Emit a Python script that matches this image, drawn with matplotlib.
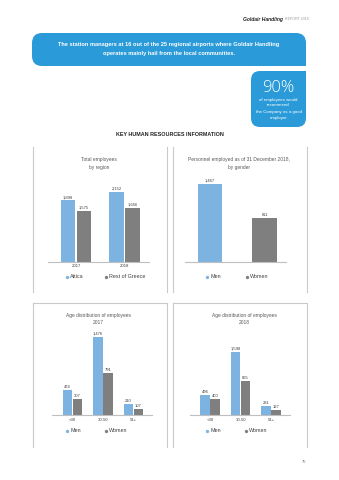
import matplotlib
matplotlib.use('Agg')
import matplotlib.pyplot as plt
from matplotlib.path import Path
from matplotlib.patches import PathPatch
import numpy as np

# ---------------- data ----------------
region_years = ['2017', '2018']
attica = [1898, 2152]
rest_of_greece = [1575, 1666]
region_labels_attica = ['1,898', '2,152']
region_labels_rest = ['1,575', '1,666']

gender_cats = ['Men', 'Women']
gender_vals = [1467, 811]
gender_labels = ['1,467', '811']

age_groups = ['<30', '30-50', '51+']
men_2017 = [474, 1476, 210]
women_2017 = [307, 791, 107]
men_2018 = [496, 1598, 231]
women_2018 = [400, 865, 127]

BLUE_BAR = '#7db3e0'
GREY_BAR = '#7f7f7f'
BANNER = '#2b9ad8'
TXT = '#404040'
LINE = '#c9c9c9'

W, H = 339, 480
fig = plt.figure(figsize=(W / 100, H / 100), dpi=100)
page = fig.add_axes([0, 0, 1, 1])
page.set_xlim(0, W)
page.set_ylim(H, 0)
page.axis('off')

NARROW = ['Liberation Sans Narrow', 'Liberation Sans', 'DejaVu Sans']
SANS = ['Liberation Sans', 'DejaVu Sans']


def rbox(x0, y0, x1, y1, r, color):
    tl, tr, br, bl = r
    M, L, C = Path.MOVETO, Path.LINETO, Path.CURVE3
    verts = [(x0 + tl, y0), (x1 - tr, y0), (x1, y0), (x1, y0 + tr),
             (x1, y1 - br), (x1, y1), (x1 - br, y1),
             (x0 + bl, y1), (x0, y1), (x0, y1 - bl),
             (x0, y0 + tl), (x0, y0), (x0 + tl, y0)]
    codes = [M, L, C, C, L, C, C, L, C, C, L, C, C]
    page.add_patch(PathPatch(Path(verts, codes), facecolor=color, edgecolor='none'))


# header
page.text(283, 19.5, 'Goldair Handling', ha='right', va='center', fontsize=3.6,
          fontweight='bold', style='italic', color='#222222', family=SANS)
page.text(285, 19.5, 'REPORT 2018', ha='left', va='center', fontsize=2.6,
          color='#9a9a9a', family=SANS)

# banner
rbox(32, 33, 306, 66, (10, 10, 0, 10), BANNER)
page.text(169, 44.5, 'The station managers at 16 out of the 25 regional airports where Goldair Handling',
          ha='center', va='center', fontsize=4.1, fontweight='bold', color='white', family=NARROW)
page.text(169, 53.5, 'operates mainly hail from the local communities.',
          ha='center', va='center', fontsize=4.1, fontweight='bold', color='white', family=NARROW)

# 90% box
rbox(251, 71, 306, 127, (9, 0, 9, 9), BANNER)
page.text(278.5, 88, '90%', ha='center', va='center', fontsize=12, color='white',
          family=['Open Sans', 'DejaVu Sans'], fontweight='light')
for yy, s in zip([99.5, 105.5, 111.5, 117.5],
                 ['of employees would', 'recommend', 'the Company as a good', 'employer']):
    page.text(278.5, yy, s, ha='center', va='center', fontsize=3.2, color='white', family=SANS)

page.text(170, 134, 'KEY HUMAN RESOURCES INFORMATION', ha='center', va='center', fontsize=3.9,
          fontweight='bold', color='#222222', family=NARROW)

# panel lines
for x in [32.5, 166.5, 173, 306.5]:
    page.plot([x, x], [147, 292], color=LINE, lw=0.8)
for x in [32.5, 167, 173, 306.5]:
    page.plot([x, x], [303, 447], color=LINE, lw=0.8)
page.plot([32.5, 167], [303, 303], color=LINE, lw=0.8)
page.plot([173, 306.5], [303, 303], color=LINE, lw=0.8)

page.text(306, 462, '75', ha='right', va='center', fontsize=3.0, color='#777777', family=SANS)


def chart_ax(x0, x1, ybase, ytop, xl, ref_val, ref_px, ticklabels=None, positions=None):
    ax = fig.add_axes([x0 / W, 1 - ybase / H, (x1 - x0) / W, (ybase - ytop) / H])
    ax.set_xlim(*xl)
    ax.set_ylim(0, ref_val * (ybase - ytop) / ref_px)
    ax.patch.set_alpha(0)
    for s in ['top', 'left', 'right']:
        ax.spines[s].set_visible(False)
    ax.spines['bottom'].set_color('#bfbfbf')
    ax.spines['bottom'].set_linewidth(0.8)
    ax.set_yticks([])
    if ticklabels is None:
        ax.set_xticks([])
    else:
        ax.set_xticks(positions)
        ax.set_xticklabels(ticklabels, fontsize=3.1, color=TXT, family=SANS)
        ax.tick_params(axis='x', length=0, pad=2)
    return ax


def vlabels(ax, xs, vals, labels):
    for x, v, l in zip(xs, vals, labels):
        ax.annotate(l, (x, v), xytext=(0, 0.8), textcoords='offset points', ha='center',
                    va='bottom', fontsize=3.0, color=TXT, family=SANS)


def fmt(v):
    return f'{v:,}'


def legend(xs, y, names, colors):
    for x, n, c in zip(xs, names, colors):
        page.plot([x], [y], marker='o', ms=2.4, color=c, mec='none')
        page.text(x + 3.2, y, n, ha='left', va='center', fontsize=3.9, color=TXT, family=SANS)


def titles(xc, y, lines):
    for i, s in enumerate(lines):
        page.text(xc, y + i * 8, s, ha='center', va='center', fontsize=3.5, color='#595959',
                  family=SANS)


# ---- top-left: by region
titles(99, 160, ['Total employees', 'by region'])
ax1 = chart_ax(48, 149, 261.5, 175, (-0.577, 1.505), 2152, 69.5,
               region_years, np.arange(len(region_years)))
pos = np.arange(len(region_years))
bw = 0.29
ax1.bar(pos - bw / 2 - 0.02, attica, bw, color=BLUE_BAR)
ax1.bar(pos + bw / 2 + 0.02, rest_of_greece, bw, color=GREY_BAR)
vlabels(ax1, pos - bw / 2 - 0.02, attica, region_labels_attica)
vlabels(ax1, pos + bw / 2 + 0.02, rest_of_greece, region_labels_rest)
legend([67, 106], 277, ['Attica', 'Rest of Greece'], [BLUE_BAR, GREY_BAR])

# ---- top-right: by gender
titles(239, 160, ['Personnel employed as of 31 December 2018,', 'by gender'])
ax2 = chart_ax(185, 286, 261.5, 175, (-0.46, 1.39), 1467, 78)
gp = np.arange(len(gender_cats))
ax2.bar(gp, gender_vals, 0.45, color=[BLUE_BAR, GREY_BAR])
vlabels(ax2, gp, gender_vals, gender_labels)
legend([207, 247], 277, gender_cats, [BLUE_BAR, GREY_BAR])

# ---- bottom: age distributions
ap = np.arange(len(age_groups))
abw = 0.31
for (xc, year, x0, x1, xl, men, women, refv, refpx) in [
        (98, '2017', 52, 152, (-0.67, 2.61), men_2017, women_2017, 1476, 78.3),
        (244, '2018', 190, 290, (-0.66, 2.62), men_2018, women_2018, 1598, 63.3)]:
    titles(xc, 315, ['Age distribution of employees', year])
    ax = chart_ax(x0, x1, 415, 328, xl, refv, refpx, age_groups, ap)
    ax.bar(ap - abw / 2 - 0.01, men, abw, color=BLUE_BAR)
    ax.bar(ap + abw / 2 + 0.01, women, abw, color=GREY_BAR)
    vlabels(ax, ap - abw / 2 - 0.01, men, [fmt(v) for v in men])
    vlabels(ax, ap + abw / 2 + 0.01, women, [fmt(v) for v in women])
legend([67, 106], 431, ['Men', 'Women'], [BLUE_BAR, GREY_BAR])
legend([207, 246], 431, ['Men', 'Women'], [BLUE_BAR, GREY_BAR])

fig.savefig('out.png', dpi=100)
